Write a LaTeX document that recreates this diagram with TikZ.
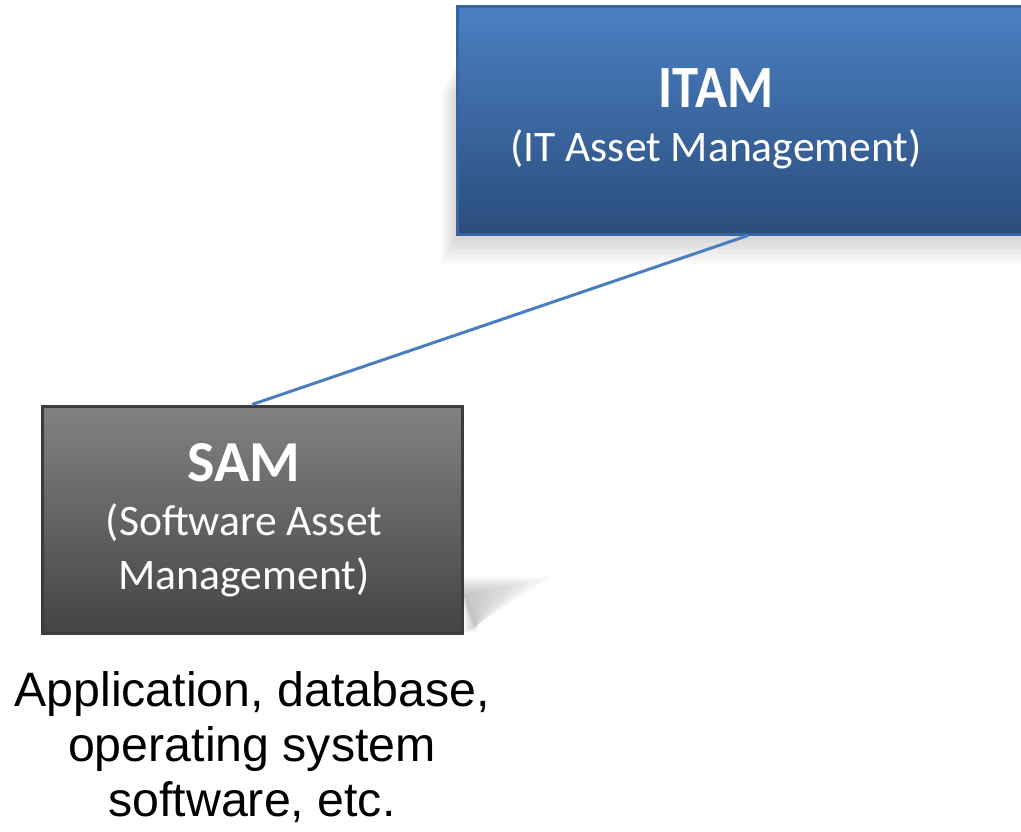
\documentclass[tikz,border=0pt]{standalone}
\usepackage{fontspec}
\newfontfamily\boxfont{Carlito}
\newfontfamily\descfont{Liberation Sans}
\newcommand\itamsize{\bfseries\addfontfeature{FakeStretch=0.88}\fontsize{60}{60}\selectfont}
\newcommand\samsize{\bfseries\fontsize{58}{60}\selectfont}
\definecolor{itamtop}{HTML}{4A80C3}
\definecolor{itambot}{HTML}{2B4D7C}
\definecolor{itamedge}{HTML}{3A64A0}
\definecolor{samtop}{HTML}{828282}
\definecolor{sambot}{HTML}{444444}
\definecolor{samedge}{HTML}{3C3C3C}
\definecolor{linkblue}{HTML}{4A7EBF}
\tikzset{
  box/.style={rectangle, line width=3pt, inner sep=0pt},
  boxtext/.style={white, align=center, font=\boxfont\fontsize{43.6}{54}\selectfont},
}
\begin{document}
\begin{tikzpicture}[x=1pt,y=-1pt]
   \useasboundingbox (0,0) rectangle (1021,831);
   \clip (0,0) rectangle (1021,831);

   \foreach \d in {1,...,8}
     \fill[black,opacity=0.02] (457-\d*2,60+\d*4) rectangle (1045,236+\d*3.5);
   \foreach \d in {0,...,13}
     \fill[black,opacity=0.02] (462,576+\d*1.5) -- (552-\d*7,577+\d*1.5) -- (464+\d*1.2,633) -- cycle;

   \node[box, draw=itamedge, top color=itamtop, bottom color=itambot,
         minimum width=582pt, minimum height=228pt] (itam) at (748,120) {};
   \node[box, draw=samedge, top color=samtop, bottom color=sambot,
         minimum width=420pt, minimum height=227pt] (sam) at (252,519.5) {};

   \node[boxtext, anchor=base] (itamlbl) at (716,161)
     {{\itamsize ITAM}\\(IT Asset Management)};
   \node[boxtext, anchor=base] (samlbl) at (244,589)
     {{\samsize SAM}\\(Software Asset\\Management)};

   \node[align=center, font=\descfont\fontsize{48.3}{55}\selectfont] (desc) at (252,747)
     {Application, database,\\operating system\\software, etc.};

   \draw[linkblue, line width=3pt] (itam.south) -- (sam.north);
\end{tikzpicture}
\end{document}
